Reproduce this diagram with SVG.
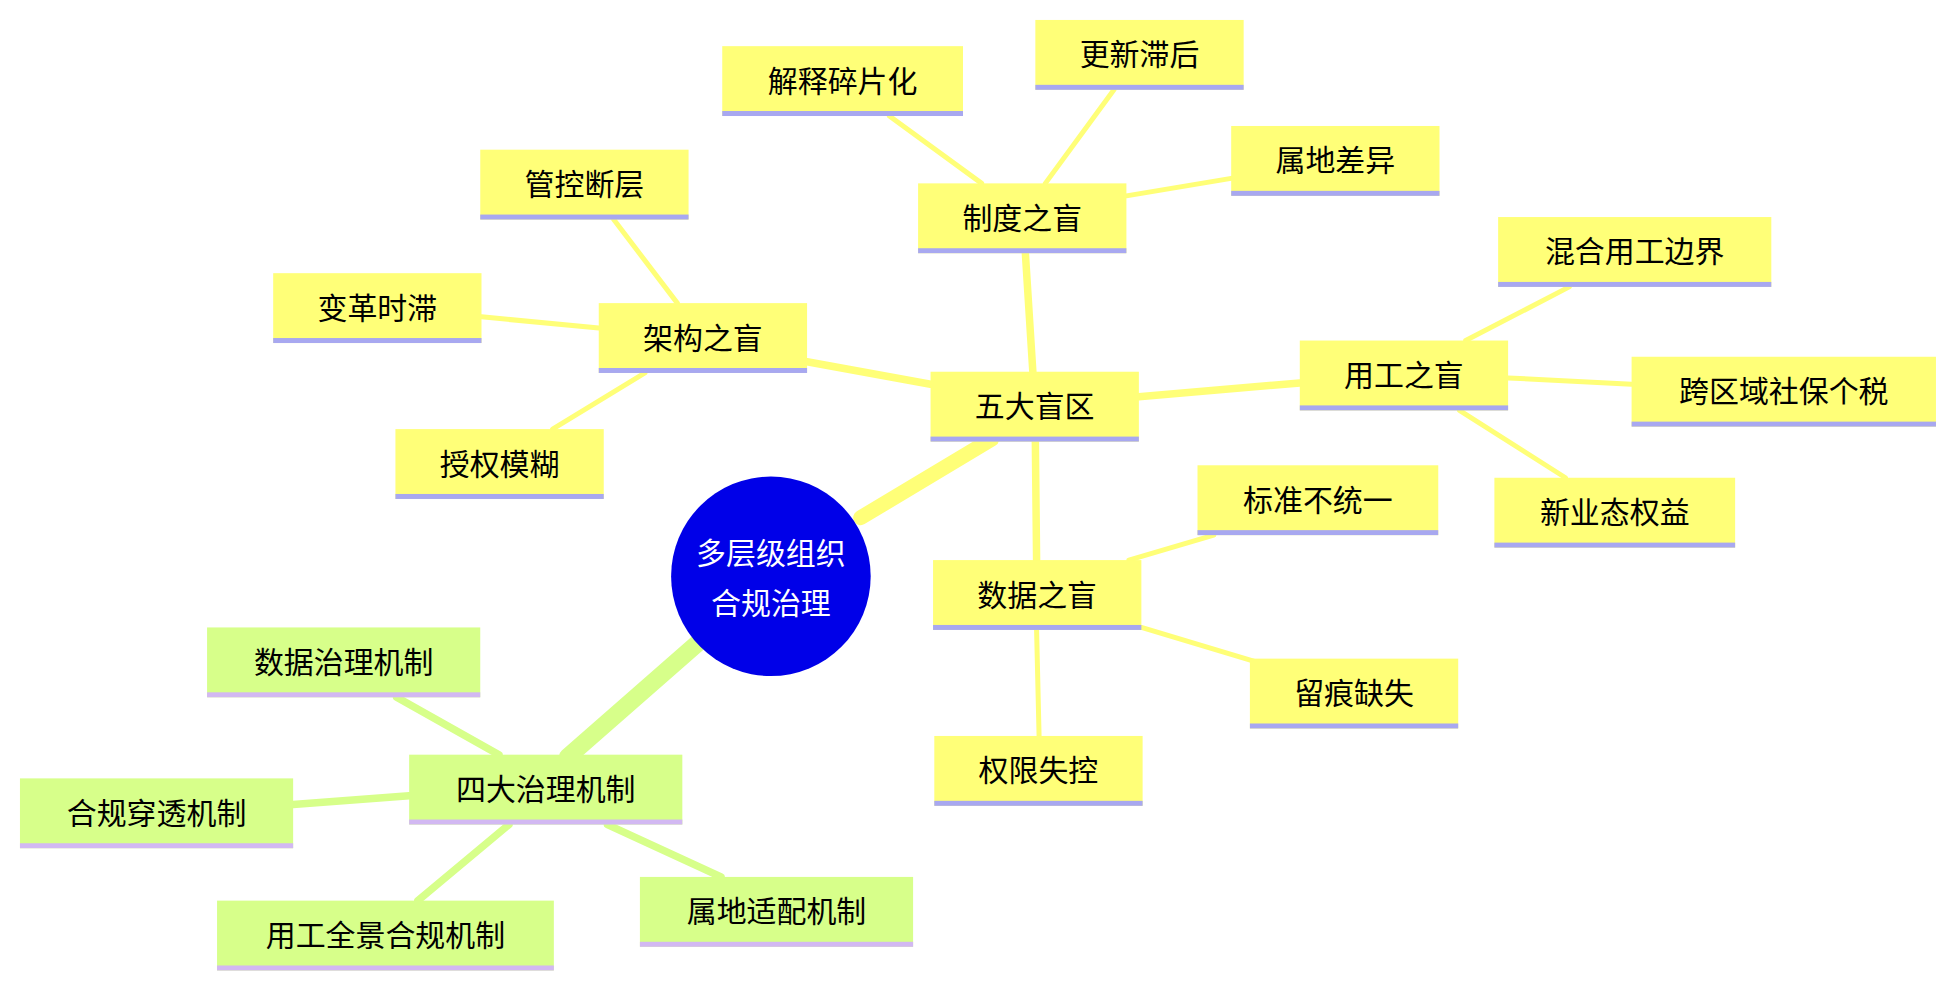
<svg xmlns="http://www.w3.org/2000/svg" width="1946" height="984" viewBox="0 0 1946 984">
<style>
text{font-family:"Noto Sans CJK SC","Noto Sans",sans-serif;font-size:24px;text-anchor:middle;dominant-baseline:central;fill:#000}
.y{fill:#ffff78}.g{fill:#d7ff8a}.yb{fill:#a8a8f0}.gb{fill:#d2b8f2}
.ey{stroke:#ffff78;fill:none;stroke-linecap:round}.eg{stroke:#d7ff8a;fill:none;stroke-linecap:round}
</style>
<rect width="1946" height="984" fill="#fff"/>
<g transform="scale(1.2474)">
<g id="connectors">
<path class="ey" stroke-width="12" d="M690 415L795 352"/>
<path class="eg" stroke-width="14" d="M560 515L455 607"/>
<path class="ey" stroke-width="6" d="M647 290L746 308M822 203L828 298M913 318L1042 307M830 354L831 449"/>
<path class="ey" stroke-width="4" d="M787 147L713 93M838 147L893 72M903 157L987 143M543 243L492 176M480 263L386 254M517 299L443 344M1175 273L1258 230M1209 303L1308 308M1170 329L1255 383M905 449L973 429M915 503L1005 530M831 505L833 590"/>
<path class="eg" stroke-width="6" d="M400 605L318 559M328 638L235 645M408 661L335 722M487 661L578 703"/>
</g>
<g id="center"><circle cx="618" cy="462" r="80" fill="#0000e8"/><text x="618" y="442" fill="#fff" style="fill:#fff">多层级组织</text><text x="618" y="482" style="fill:#fff">合规治理</text></g>
<g id="n1"><rect class="y" x="746" y="298" width="167" height="56"/><rect class="yb" x="746" y="350" width="167" height="4"/><text x="829.5" y="324">五大盲区</text></g>
<g id="n2"><rect class="y" x="736" y="147" width="167" height="56"/><rect class="yb" x="736" y="199" width="167" height="4"/><text x="819.5" y="173">制度之盲</text></g>
<g id="n3"><rect class="y" x="579" y="37" width="193" height="56"/><rect class="yb" x="579" y="89" width="193" height="4"/><text x="675.5" y="63">解释碎片化</text></g>
<g id="n4"><rect class="y" x="830" y="16" width="167" height="56"/><rect class="yb" x="830" y="68" width="167" height="4"/><text x="913.5" y="42">更新滞后</text></g>
<g id="n5"><rect class="y" x="987" y="101" width="167" height="56"/><rect class="yb" x="987" y="153" width="167" height="4"/><text x="1070.5" y="127">属地差异</text></g>
<g id="n6"><rect class="y" x="480" y="243" width="167" height="56"/><rect class="yb" x="480" y="295" width="167" height="4"/><text x="563.5" y="269">架构之盲</text></g>
<g id="n7"><rect class="y" x="385" y="120" width="167" height="56"/><rect class="yb" x="385" y="172" width="167" height="4"/><text x="468.5" y="146">管控断层</text></g>
<g id="n8"><rect class="y" x="219" y="219" width="167" height="56"/><rect class="yb" x="219" y="271" width="167" height="4"/><text x="302.5" y="245">变革时滞</text></g>
<g id="n9"><rect class="y" x="317" y="344" width="167" height="56"/><rect class="yb" x="317" y="396" width="167" height="4"/><text x="400.5" y="370">授权模糊</text></g>
<g id="n10"><rect class="y" x="1042" y="273" width="167" height="56"/><rect class="yb" x="1042" y="325" width="167" height="4"/><text x="1125.5" y="299">用工之盲</text></g>
<g id="n11"><rect class="y" x="1201" y="174" width="219" height="56"/><rect class="yb" x="1201" y="226" width="219" height="4"/><text x="1310.5" y="200">混合用工边界</text></g>
<g id="n12"><rect class="y" x="1308" y="286" width="244" height="56"/><rect class="yb" x="1308" y="338" width="244" height="4"/><text x="1430" y="312">跨区域社保个税</text></g>
<g id="n13"><rect class="y" x="1198" y="383" width="193" height="56"/><rect class="yb" x="1198" y="435" width="193" height="4"/><text x="1294.5" y="409">新业态权益</text></g>
<g id="n14"><rect class="y" x="748" y="449" width="167" height="56"/><rect class="yb" x="748" y="501" width="167" height="4"/><text x="831.5" y="475">数据之盲</text></g>
<g id="n15"><rect class="y" x="960" y="373" width="193" height="56"/><rect class="yb" x="960" y="425" width="193" height="4"/><text x="1056.5" y="399">标准不统一</text></g>
<g id="n16"><rect class="y" x="1002" y="528" width="167" height="56"/><rect class="yb" x="1002" y="580" width="167" height="4"/><text x="1085.5" y="554">留痕缺失</text></g>
<g id="n17"><rect class="y" x="749" y="590" width="167" height="56"/><rect class="yb" x="749" y="642" width="167" height="4"/><text x="832.5" y="616">权限失控</text></g>
<g id="n18"><rect class="g" x="328" y="605" width="219" height="56"/><rect class="gb" x="328" y="657" width="219" height="4"/><text x="437.5" y="631">四大治理机制</text></g>
<g id="n19"><rect class="g" x="166" y="503" width="219" height="56"/><rect class="gb" x="166" y="555" width="219" height="4"/><text x="275.5" y="529">数据治理机制</text></g>
<g id="n20"><rect class="g" x="16" y="624" width="219" height="56"/><rect class="gb" x="16" y="676" width="219" height="4"/><text x="125.5" y="650">合规穿透机制</text></g>
<g id="n21"><rect class="g" x="174" y="722" width="270" height="56"/><rect class="gb" x="174" y="774" width="270" height="4"/><text x="309" y="748">用工全景合规机制</text></g>
<g id="n22"><rect class="g" x="513" y="703" width="219" height="56"/><rect class="gb" x="513" y="755" width="219" height="4"/><text x="622.5" y="729">属地适配机制</text></g>
</g>
</svg>
